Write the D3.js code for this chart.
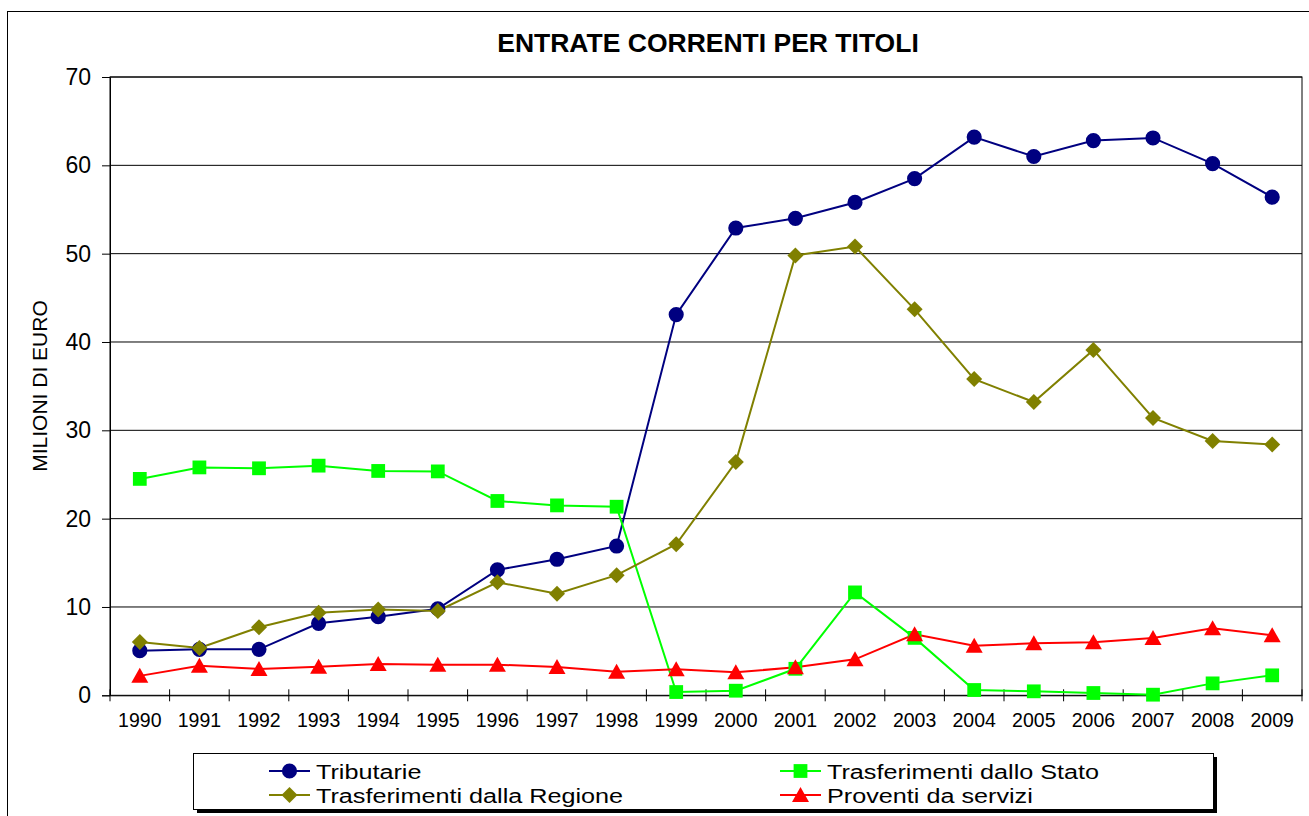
<!DOCTYPE html>
<html>
<head>
<meta charset="utf-8">
<script src="https://cdn.jsdelivr.net/npm/d3@7"></script>
<style>
  body { margin: 0; background: #fff; }
  svg { display: block; font-family: "Liberation Sans", Arial, sans-serif; }
</style>
</head>
<body>
<svg id="chart"></svg>
<script>
const years = ['1990','1991','1992','1993','1994','1995','1996','1997','1998','1999',
               '2000','2001','2002','2003','2004','2005','2006','2007','2008','2009'];

const tributarie = [5.05, 5.2, 5.2, 8.15, 8.9, 9.8, 14.2, 15.4, 16.9, 43.1,
                    52.9, 54.0, 55.8, 58.5, 63.2, 61.0, 62.8, 63.1, 60.2, 56.4];
const trasfStato = [24.5, 25.8, 25.7, 26.0, 25.4, 25.35, 22.0, 21.5, 21.35, 0.37,
                    0.52, 3.0, 11.65, 6.5, 0.6, 0.45, 0.26, 0.07, 1.35, 2.26];
const trasfRegione = [6.03, 5.35, 7.7, 9.35, 9.7, 9.55, 12.8, 11.5, 13.6, 17.1,
                      26.4, 49.8, 50.8, 43.7, 35.8, 33.2, 39.1, 31.4, 28.8, 28.4];
const proventi = [2.2, 3.35, 2.98, 3.24, 3.54, 3.47, 3.47, 3.2, 2.67, 2.94,
                  2.6, 3.17, 4.07, 6.9, 5.6, 5.9, 6.0, 6.5, 7.6, 6.8];

const yTicks = [0, 10, 20, 30, 40, 50, 60, 70];

const series = [
  { name: 'Tributarie', values: tributarie, color: '#000080', shape: 'circle' },
  { name: 'Trasferimenti dallo Stato', values: trasfStato, color: '#00ff00', shape: 'square' },
  { name: 'Trasferimenti dalla Regione', values: trasfRegione, color: '#808000', shape: 'diamond' },
  { name: 'Proventi da servizi', values: proventi, color: '#ff0000', shape: 'triangle' }
];

const width = 1309;
const height = 816;
const plot = { left: 110, right: 1302, top: 77, bottom: 695.3 };

const svg = d3.select('#chart').attr('width', width).attr('height', height);

// outer chart frame (runs off the page on right and bottom)
svg.append('rect')
  .attr('x', 7.5).attr('y', 11.5)
  .attr('width', width).attr('height', height)
  .attr('fill', '#fff').attr('stroke', '#000').attr('stroke-width', 1);

const x = d3.scaleBand().domain(years).range([plot.left, plot.right]);
const y = d3.scaleLinear().domain([0, 70]).range([plot.bottom, plot.top]);
const cx = d => x(d) + x.bandwidth() / 2;

// gridlines
svg.append('g')
  .selectAll('line')
  .data(yTicks.filter(t => t > 0))
  .enter()
  .append('line')
  .attr('x1', plot.left).attr('x2', plot.right)
  .attr('y1', d => y(d)).attr('y2', d => y(d))
  .attr('stroke', '#000').attr('stroke-width', 1);

// plot frame
svg.append('rect')
  .attr('x', plot.left).attr('y', plot.top)
  .attr('width', plot.right - plot.left).attr('height', plot.bottom - plot.top)
  .attr('fill', 'none').attr('stroke', '#000').attr('stroke-width', 1);

// y axis
const yAxis = d3.axisLeft(y).tickValues(yTicks).tickSize(8).tickPadding(11);
const gy = svg.append('g')
  .attr('transform', `translate(${plot.left},0)`)
  .call(yAxis);
gy.select('.domain').attr('stroke', '#000');
gy.selectAll('text').attr('font-size', 23).attr('fill', '#000')
  .attr('font-family', '"Liberation Sans", Arial, sans-serif');

// x axis: labels centered in bands, cross ticks on band edges
const xAxis = d3.axisBottom(x).tickSize(0).tickPadding(18);
const gx = svg.append('g')
  .attr('transform', `translate(0,${plot.bottom})`)
  .call(xAxis);
gx.select('.domain').attr('stroke', '#000');
gx.selectAll('text').attr('font-size', 19.5).attr('fill', '#000')
  .attr('font-family', '"Liberation Sans", Arial, sans-serif');

const edges = years.map(d => x(d)).concat([x(years[years.length - 1]) + x.bandwidth()]);
svg.append('g')
  .selectAll('line')
  .data(edges)
  .enter()
  .append('line')
  .attr('x1', d => d).attr('x2', d => d)
  .attr('y1', plot.bottom - 6).attr('y2', plot.bottom + 6)
  .attr('stroke', '#000').attr('stroke-width', 1);

// title and axis label
svg.append('text')
  .attr('x', 708).attr('y', 52)
  .attr('text-anchor', 'middle')
  .attr('font-size', 26.5).attr('font-weight', 'bold')
  .text('ENTRATE CORRENTI PER TITOLI');

svg.append('text')
  .attr('transform', 'translate(47,386) rotate(-90)')
  .attr('text-anchor', 'middle')
  .attr('font-size', 21)
  .text('MILIONI DI EURO');

// marker shapes
const markerPath = (shape) => {
  if (shape === 'circle') return d3.symbol(d3.symbolCircle, 180)();
  if (shape === 'square') return d3.symbol(d3.symbolSquare, 190)();
  if (shape === 'diamond') return 'M0,-8L8,0L0,8L-8,0Z';
  return 'M0,-9L8.5,6L-8.5,6Z';
};

const line = d3.line().x((v, i) => cx(years[i])).y(v => y(v));

series.forEach(s => {
  svg.append('path')
    .datum(s.values)
    .attr('d', line)
    .attr('fill', 'none')
    .attr('stroke', s.color)
    .attr('stroke-width', 2);
});

series.forEach(s => {
  svg.append('g')
    .selectAll('path')
    .data(s.values)
    .enter()
    .append('path')
    .attr('d', markerPath(s.shape))
    .attr('transform', (v, i) => `translate(${cx(years[i])},${y(v) + (s.shape === 'triangle' ? 1 : 0)})`)
    .attr('fill', s.color);
});

// legend
const legend = svg.append('g');
legend.append('rect')
  .attr('x', 197).attr('y', 757).attr('width', 1020).attr('height', 56)
  .attr('fill', '#000');
legend.append('rect')
  .attr('x', 193.5).attr('y', 753.5).attr('width', 1020).attr('height', 56)
  .attr('fill', '#fff').attr('stroke', '#000').attr('stroke-width', 1);

const legendPos = [
  { x: 269, y: 771 },
  { x: 780, y: 771 },
  { x: 269, y: 795 },
  { x: 780, y: 795 }
];

series.forEach((s, i) => {
  const p = legendPos[i];
  const g = legend.append('g').attr('transform', `translate(${p.x},${p.y})`);
  g.append('line')
    .attr('x1', 0).attr('x2', 41).attr('y1', 0).attr('y2', 0)
    .attr('stroke', s.color).attr('stroke-width', 2);
  g.append('path')
    .attr('d', markerPath(s.shape))
    .attr('transform', `translate(20.5,${s.shape === 'triangle' ? 1 : 0})`)
    .attr('fill', s.color);
  g.append('text')
    .attr('transform', 'translate(47,0) scale(1.2,1)')
    .attr('dy', '0.36em')
    .attr('font-size', 21)
    .text(s.name);
});
</script>
</body>
</html>
